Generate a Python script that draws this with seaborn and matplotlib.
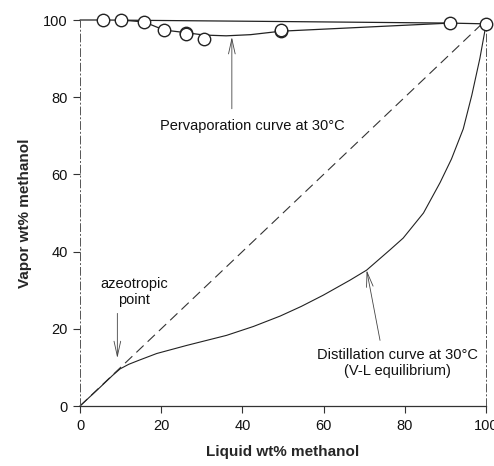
import matplotlib
matplotlib.use("Agg")
import matplotlib.pyplot as plt
import seaborn as sns

# Pervaporation curve at 30°C
perv_upper_x = [0, 5.7, 50, 91.1, 100]
perv_upper_y = [100, 100, 99.6, 99.2, 99.0]
perv_lower_x = [10, 15.8, 20.7, 26.2, 30.6, 36, 42, 49.5, 91.1]
perv_lower_y = [100, 99.5, 97.4, 96.7, 96.1, 95.9, 96.2, 97.1, 99.2]
perv_pts_x = [5.7, 10.0, 15.8, 20.7, 26.2, 26.2, 30.6, 49.5, 49.5, 91.1, 100]
perv_pts_y = [100, 100, 99.5, 97.4, 96.7, 96.3, 95.2, 97.1, 97.5, 99.2, 99.0]

# Diagonal (x = y)
diag_x = [0, 100]
diag_y = [0, 100]

# Distillation curve at 30°C (V-L equilibrium)
dist_x = [0, 5, 8, 9.85, 12, 14.4, 18.9, 26.3, 36.1, 42.7, 49.3, 54.5, 59.9, 66.5, 70.6,
          76.4, 79.6, 84.6, 88.7, 91.5, 94.4, 96.5, 98.5, 100]
dist_y = [0, 4.9, 7.9, 9.6, 10.8, 11.8, 13.6, 15.7, 18.3, 20.6, 23.3, 25.8, 28.7, 32.6, 35.2,
          40.5, 43.5, 50.0, 57.9, 64.0, 71.8, 80.5, 90.1, 98.8]

xticks = [0, 20, 40, 60, 80, 100]
yticks = [0, 20, 40, 60, 80, 100]

sns.set_theme(style="white")
plt.rcParams['font.family'] = ['Liberation Sans', 'DejaVu Sans']

fig = plt.figure(figsize=(4.94, 4.66), dpi=100)
ax = fig.add_axes([80/494, 60/466, 406/494, 386/466])

sns.lineplot(x=perv_upper_x, y=perv_upper_y, ax=ax, color="#222222", lw=0.9, sort=False)
sns.lineplot(x=perv_lower_x, y=perv_lower_y, ax=ax, color="#222222", lw=0.9, sort=False)
sns.lineplot(x=diag_x, y=diag_y, ax=ax, color="#333333", lw=0.8, sort=False,
             linestyle=(0, (9, 5)))
sns.lineplot(x=dist_x, y=dist_y, ax=ax, color="#222222", lw=0.8, sort=False)
sns.scatterplot(x=perv_pts_x, y=perv_pts_y, ax=ax, s=80, facecolor="white",
                edgecolor="#222222", linewidth=1.0, zorder=5)
for c in ax.collections:
    c.set_clip_on(False)
for l in ax.lines:
    l.set_clip_on(False)

ax.set_xlim(0, 100)
ax.set_ylim(0, 100)
ax.set_xticks(xticks)
ax.set_yticks(yticks)
ax.tick_params(axis='both', direction='out', length=5, width=0.8, color="#333333",
               labelsize=10.5, labelcolor="#111111", pad=4, bottom=True, left=True)

ax.spines['top'].set_visible(False)
for s in ['left', 'right']:
    ax.spines[s].set_linestyle((0, (8, 3, 1, 3)))
    ax.spines[s].set_linewidth(0.7)
    ax.spines[s].set_color("#555555")
ax.spines['bottom'].set_linewidth(0.9)
ax.spines['bottom'].set_color("#333333")

ax.set_xlabel("Liquid wt% methanol", fontsize=11, fontweight='bold', labelpad=9)
ax.set_ylabel("Vapor wt% methanol", fontsize=11, fontweight='bold', labelpad=8)

arr = dict(arrowstyle="->,head_length=0.9,head_width=0.2", color="#444444", lw=0.6,
           shrinkA=0, shrinkB=0)

# Pervaporation label + vertical arrow
ax.text(42.5, 72.5, "Pervaporation curve at 30°C", ha='center', va='center',
        fontsize=10.5, color="#111111")
ax.annotate("", xy=(37.4, 95.6), xytext=(37.4, 77.0), arrowprops=arr)

# Distillation label + arrow
ax.text(78.3, 11.2, "Distillation curve at 30°C\n(V-L equilibrium)", ha='center',
        va='center', fontsize=10.5, color="#111111", linespacing=1.2)
ax.annotate("", xy=(70.6, 35.2), xytext=(73.9, 17.0), arrowprops=arr)

# Azeotropic point label + arrow
ax.text(13.3, 29.6, "azeotropic\npoint", ha='center', va='center',
        fontsize=10.5, color="#111111", linespacing=1.2)
ax.annotate("", xy=(9.2, 12.4), xytext=(9.2, 24.0), arrowprops=arr)

fig.savefig("out.png", dpi=100)
